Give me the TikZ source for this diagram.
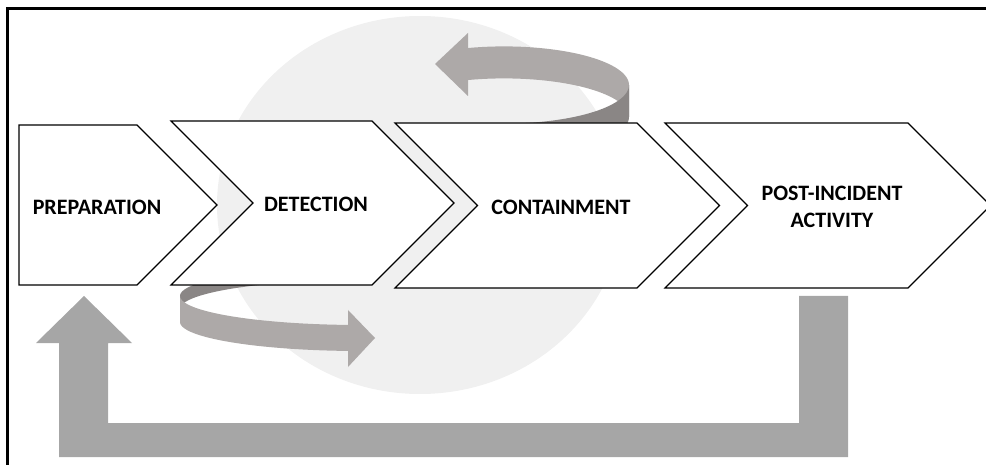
\documentclass[tikz,border=0pt]{standalone}
\usepackage{fontspec}
\setmainfont{Carlito}
\definecolor{bgcirc}{RGB}{240,240,240}
\definecolor{riblight}{RGB}{173,169,168}
\definecolor{ribdark}{RGB}{138,134,133}
\definecolor{lgray}{RGB}{166,166,166}
\tikzset{
  chev/.style={draw=black, line width=1.1pt, fill=white, line join=miter},
  lbl/.style={font=\fontsize{22}{27}\selectfont\bfseries, align=center, inner sep=0pt},
  frame/.style={draw=black, line width=3pt}
}
\begin{document}
\begin{tikzpicture}[x=1pt,y=-1pt]
\useasboundingbox (0,0) rectangle (986,465);
% background disc
\fill[bgcirc] (420,205) ellipse [x radius=203, y radius=189];
% upper ribbon arrow: back band (light)
\fill[riblight] plot[domain=106.7:0,samples=40] ({504+125*cos(\x)},{85-38.6*sin(\x)})
  -- plot[domain=0:106.7,samples=40] ({504+125*cos(\x)},{117-38.6*sin(\x)}) -- cycle;
\fill[riblight] (468,33) -- (435,64) -- (468,96) -- cycle;
% upper ribbon front (dark)
\fill[ribdark] plot[domain=0:-90,samples=40] ({504+125*cos(\x)},{85-38.6*sin(\x)})
  -- plot[domain=-90:0,samples=40] ({504+125*cos(\x)},{117-38.6*sin(\x)}) -- cycle;
% lower ribbon back (dark)
\fill[ribdark] plot[domain=180:120,samples=30] ({360+180*cos(\x)},{296-29*sin(\x)})
  -- plot[domain=120:180,samples=30] ({360+180*cos(\x)},{309-29*sin(\x)}) -- cycle;
% lower ribbon front (light)
\fill[riblight] plot[domain=180:93.8,samples=40] ({360+180*cos(\x)},{296+29*sin(\x)})
  -- plot[domain=93.8:180,samples=40] ({360+180*cos(\x)},{322+29*sin(\x)}) -- cycle;
\fill[riblight] (348,310) -- (375,338) -- (348,367) -- cycle;
% chevrons
\draw[chev] (19,125) -- (137,125) -- (217,205) -- (137,285) -- (19,285) -- cycle;
\draw[chev] (171,121) -- (372,121) -- (454,203) -- (372,285) -- (171,285) -- (253,203) -- cycle;
\draw[chev] (395,123) -- (637,123) -- (719.5,205.5) -- (637,288) -- (395,288) -- (477.5,205.5) -- cycle;
\draw[chev] (665,123) -- (908,123) -- (990.5,205.5) -- (908,288) -- (665,288) -- (747.5,205.5) -- cycle;
% feedback L arrow
\fill[lgray] (848,296) -- (848,457) -- (59,457) -- (59,343) -- (36,343) -- (84,296)
  -- (132,343) -- (108,343) -- (108,423) -- (799,423) -- (799,296) -- cycle;
% labels
\node[lbl] (prep) at (97,207) {PREPARATION};
\node[lbl] (det) at (316,204) {DETECTION};
\node[lbl] (cont) at (561,207) {CONTAINMENT};
\node[lbl] (post) at (832,206.5) {POST-INCIDENT\\ACTIVITY};
% frame
\draw[frame] (7,467) -- (7,9) -- (988,9);
\end{tikzpicture}
\end{document}
